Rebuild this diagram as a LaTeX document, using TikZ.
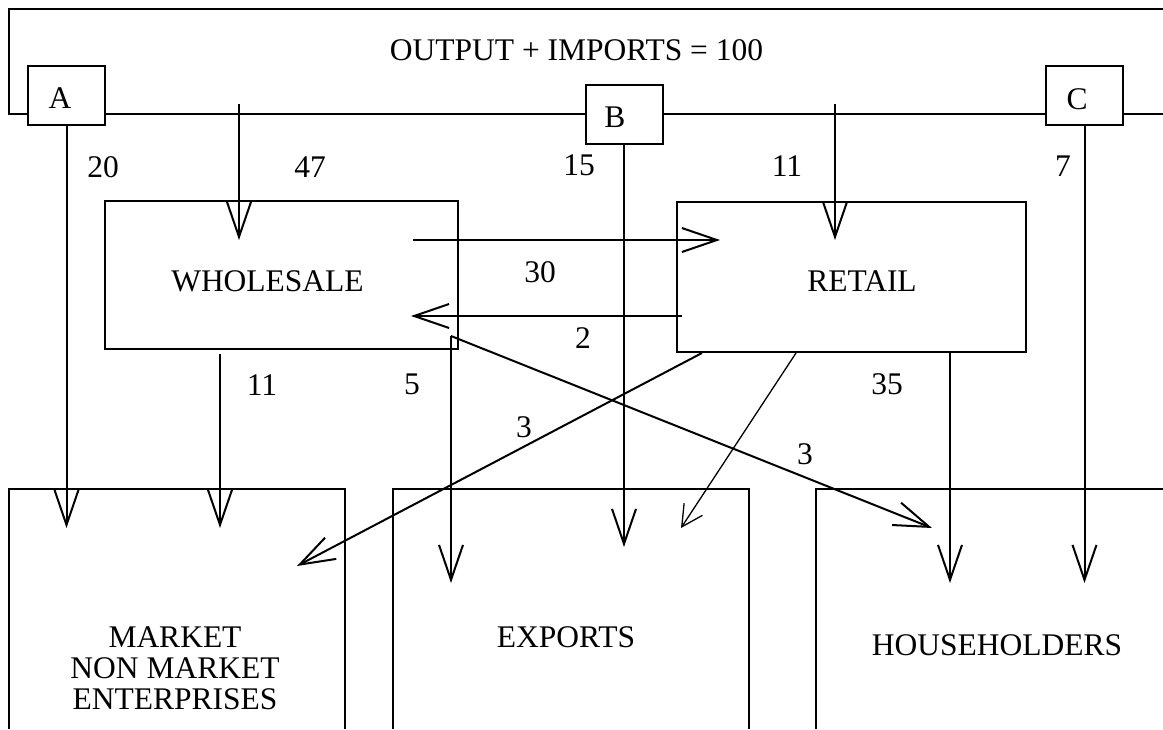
\documentclass[tikz,border=0pt]{standalone}
\usepackage{fontspec}
\setmainfont{Liberation Serif}
\usetikzlibrary{arrows.meta}
\begin{document}
\begin{tikzpicture}[x=1pt,y=-1pt,
  ln/.style={line width=2pt},
  arr/.style={line width=2pt,-{Straight Barb[length=35pt,width=24pt]}},
  thinarr/.style={line width=1.3pt,-{Straight Barb[length=21pt,width=22pt]}},
  lbox/.style={draw,line width=2pt,inner sep=0pt,minimum width=77pt,minimum height=58.5pt,font=\fontsize{31.5}{36}\selectfont},
  bigbox/.style={draw,line width=2pt,inner sep=0pt},
  lab/.style={inner sep=0pt,anchor=base,font=\fontsize{31.5}{31}\selectfont}]
\useasboundingbox (0,0) rectangle (1163,729);

% top frame
\node[lbox] (A) at (66.5,95.5) {};
\node[lbox] (B) at (624,114.5) {};
\node[lbox] (C) at (1084.5,95.5) {};
\coordinate (fl) at (9,114);
\coordinate (fr) at (1163,114);
\coordinate (ftl) at (9,9);
\coordinate (ftr) at (1163,9);
\draw[ln] (ftr) -- (ftl) -- (fl) -- (fl -| A.west);
\draw[ln] (A.east |- fl) -- (B.west |- fl);
\draw[ln] (B.east |- fl) -- (C.west |- fl);
\draw[ln] (C.east |- fl) -- (fr);
\node[lab] at (60,108) {A};
\node[lab] at (615,127) {B};
\node[lab] at (1077,109) {C};
\node[lab] at (576.5,60) {OUTPUT + IMPORTS = 100};

% middle boxes
\node[bigbox,minimum width=353pt,minimum height=148pt] (W) at (281.5,275) {};
\node[bigbox,minimum width=349pt,minimum height=150pt] (R) at (851.3,277) {};
\node[lab] at (267.5,291) {WHOLESALE};
\node[lab] at (862,291) {RETAIL};

% bottom boxes (open at bottom)
\coordinate (m1) at (9,729);   \coordinate (m2) at (9,489);
\coordinate (m3) at (345,489); \coordinate (m4) at (345,729);
\draw[ln] (m1) -- (m2) -- (m3) -- (m4);
\coordinate (e1) at (393,729); \coordinate (e2) at (393,489);
\coordinate (e3) at (749,489); \coordinate (e4) at (749,729);
\draw[ln] (e1) -- (e2) -- (e3) -- (e4);
\coordinate (h1) at (816,729); \coordinate (h2) at (816,489);
\coordinate (h3) at (1163,489);
\draw[ln] (h1) -- (h2) -- (h3);
\node[lab,align=center,anchor=north] at (175,626) {MARKET\\NON MARKET\\ENTERPRISES};
\node[lab] at (566,647) {EXPORTS};
\node[lab] at (997,655) {HOUSEHOLDERS};

% arrow coordinates
\coordinate (s47) at (239,104);  \coordinate (t47) at (239,240);
\coordinate (s11t) at (835,104); \coordinate (t11t) at (835,240);
\coordinate (t20) at (66.5,528);
\coordinate (t15) at (624,547);
\coordinate (t7) at (1084.5,583);
\coordinate (s30) at (413,240);  \coordinate (t30) at (720,240);
\coordinate (s2) at (682,316);   \coordinate (t2) at (411,316);
\coordinate (s11b) at (220,354); \coordinate (t11b) at (220,528);
\coordinate (s5) at (451,336);   \coordinate (t5) at (451,583);
\coordinate (t3r) at (932,528);
\coordinate (s3l) at (702,353);  \coordinate (t3l) at (297,566);
\coordinate (sth) at (796,353);  \coordinate (tth) at (681,528);
\coordinate (s35) at (950,352);  \coordinate (t35) at (950,583);

\draw[arr] (A.south) -- (t20);
\draw[arr] (s47) -- (t47);
\draw[arr] (B.south) -- (t15);
\draw[arr] (s11t) -- (t11t);
\draw[arr] (C.south) -- (t7);
\draw[arr] (s30) -- (t30);
\draw[arr] (s2) -- (t2);
\draw[arr] (s11b) -- (t11b);
\draw[arr] (s5) -- (t5);
\draw[arr] (s5) -- (t3r);
\draw[arr] (s3l) -- (t3l);
\draw[thinarr] (sth) -- (tth);
\draw[arr] (s35) -- (t35);

% flow numbers
\node[lab] at (103,177) {20};
\node[lab] at (310,177) {47};
\node[lab] at (579,175) {15};
\node[lab] at (787,176) {11};
\node[lab] at (1063,176) {7};
\node[lab] at (540,282) {30};
\node[lab] at (583,348) {2};
\node[lab] at (262,395) {11};
\node[lab] at (412,394) {5};
\node[lab] at (887,394) {35};
\node[lab] at (524,437) {3};
\node[lab] at (805,464) {3};
\end{tikzpicture}
\end{document}
